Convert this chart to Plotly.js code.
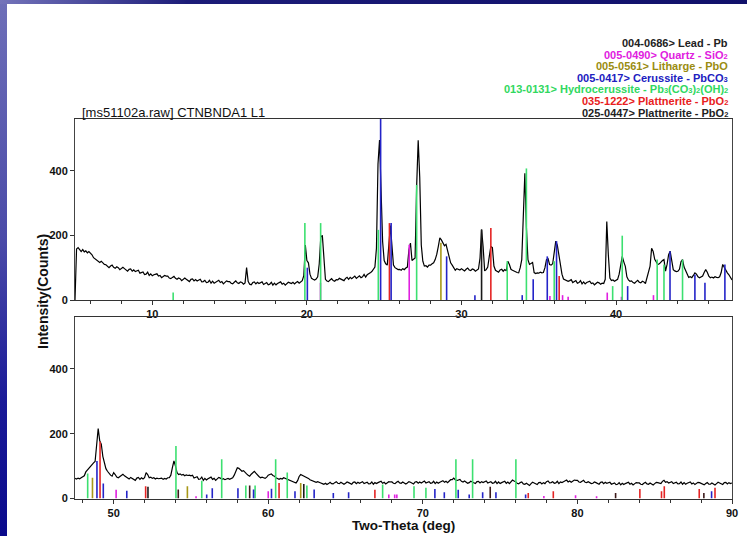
<!DOCTYPE html>
<html>
<head>
<meta charset="utf-8">
<script src="https://cdn.plot.ly/plotly-3.0.1.min.js"></script>
<style>
  html, body { margin: 0; padding: 0; background: #ffffff; }
  body { width: 747px; height: 536px; overflow: hidden; position: relative; }
  #chart { position: absolute; left: 0; top: 0; width: 747px; height: 536px; }
  .edge-left { position: absolute; left: 0; top: 0; width: 7px; height: 536px; z-index: 5;
    background: linear-gradient(to bottom, #6e6fb8 0%, #4a4aa8 45%, #1a1a98 75%, #0a0a8c 100%); }
  .edge-top { position: absolute; left: 0; top: 0; width: 747px; height: 4px; z-index: 5;
    background: linear-gradient(to right, #7474ba 0%, #4a4a9c 12%, #1c1c78 25%, #10106a 100%); }
</style>
</head>
<body>
<div id="chart"></div>
<div class="edge-left"></div>
<div class="edge-top"></div>
<script>
// Scan: 2-theta from 5.0 to 90.0 deg in 0.1 deg steps
const scanStart = 5.0;
const scanStep = 0.1;
const scanCounts = [
  0,158,162,155,150,156,149,152,146,150,      // 5
  146,140,131,127,122,118,116,120,114,110,    // 6
  109,103,100,105,108,101,98,103,100,94,      // 7
  97,101,97,92,89,95,96,89,93,88,             // 8
  90,92,83,84,87,79,80,86,76,81,              // 9
  75,78,80,81,74,76,69,72,76,74,              // 10
  74,68,66,70,73,67,64,68,66,60,              // 11
  63,68,64,60,57,64,65,59,63,59,              // 12
  61,64,56,57,61,54,55,61,52,58,              // 13
  52,56,59,61,54,57,50,54,59,57,              // 14
  57,52,50,55,59,53,51,56,54,49,              // 15
  53,100,58,49,47,54,56,50,55,51,             // 16
  53,56,48,50,54,47,49,55,46,52,              // 17
  47,51,54,56,49,52,46,50,55,53,              // 18
  51,55,50,54,57,52,56,60,75,170,             // 19
  122,115,80,67,64,62,65,72,112,195,          // 20
  200,110,64,59,57,62,66,60,58,63,            // 21
  62,67,65,61,60,67,70,64,70,66,              // 22
  70,74,67,70,75,69,72,79,71,78,              // 23
  80,84,88,94,102,160,420,495,330,180,        // 24
  122,112,108,160,230,170,108,100,96,94,      // 25
  95,92,97,94,99,102,155,176,122,126,         // 26
  130,350,494,380,170,120,105,106,102,108,    // 27
  108,112,115,125,141,165,192,186,178,168,    // 28
  172,150,128,115,108,99,92,97,96,93,         // 29
  97,92,90,95,99,93,91,96,94,89,              // 30
  94,96,130,218,165,90,94,102,135,166,        // 31
  162,105,92,88,86,93,95,89,94,90,            // 32
  120,110,95,92,89,86,85,84,100,125,          // 33
  300,392,225,125,110,112,116,85,82,84,       // 34
  83,86,84,85,100,125,128,110,108,112,        // 35
  150,182,170,140,115,80,65,62,60,58,         // 36
  60,63,54,56,60,52,54,60,50,56,              // 37
  50,54,56,58,51,53,47,51,55,53,              // 38
  49,52,51,64,243,140,68,60,62,58,            // 39
  62,64,80,110,135,118,104,72,62,58,          // 40
  59,54,52,57,61,55,53,58,56,51,              // 41
  72,88,105,160,150,126,118,110,112,118,      // 42
  122,125,89,110,140,151,120,94,90,88,        // 43
  89,95,118,125,102,92,80,70,72,69,           // 44
  76,84,80,72,69,72,74,85,94,86,              // 45
  74,69,71,68,72,70,69,72,85,110,             // 46
  100,92,84,78,70,62,60,63,61,64,             // 47
  66,70,82,88,94,98,104,110,114,160,          // 48
  216,178,168,130,110,92,84,76,72,69,         // 49
  80,74,66,64,68,72,75,70,66,63,              // 50
  60,65,62,58,56,63,65,59,64,60,              // 51
  64,80,74,64,66,62,64,60,63,61,              // 52
  61,63,59,62,60,64,64,72,95,116,             // 53
  100,80,74,76,72,74,70,73,71,72,             // 54
  70,72,63,64,67,59,60,66,56,62,              // 55
  57,61,64,66,59,62,56,60,65,63,              // 56
  59,61,58,60,62,59,61,64,72,84,              // 57
  95,93,89,84,86,80,76,72,69,75,              // 58
  80,84,78,72,68,64,66,64,62,66,              // 59
  72,74,76,71,69,64,62,59,62,60,              // 60
  64,62,58,56,54,52,50,49,48,55,              // 61
  68,74,72,70,67,64,62,58,56,55,              // 62
  53,50,52,49,48,46,44,47,43,46,              // 63
  50,46,45,49,52,47,46,50,48,44,              // 64
  47,51,49,46,44,50,51,46,50,47,              // 65
  50,52,46,47,50,45,46,51,44,49,              // 66
  46,49,51,53,47,50,45,48,52,51,              // 67
  51,47,46,50,53,48,47,51,49,45,              // 68
  48,52,50,47,45,51,52,47,51,48,              // 69
  52,54,48,49,52,47,48,53,46,51,              // 70
  47,50,53,55,50,53,49,53,58,58,              // 71
  63,58,55,57,59,53,51,54,51,47,              // 72
  49,53,51,48,46,52,53,48,52,49,              // 73
  52,54,48,49,52,47,48,53,46,51,              // 74
  46,49,51,53,47,51,46,50,57,54,              // 75
  52,47,45,49,51,45,44,47,44,40,              // 76
  46,50,48,45,43,49,50,45,49,46,              // 77
  52,54,48,49,52,47,48,53,46,51,              // 78
  49,52,54,57,51,54,50,53,57,56,              // 79
  56,51,50,53,56,50,49,52,50,46,              // 80
  47,51,49,46,44,50,51,46,50,47,              // 81
  48,50,44,45,48,43,44,49,42,47,              // 82
  43,46,48,50,44,47,42,45,49,48,              // 83
  48,44,43,47,50,45,44,48,46,42,              // 84
  46,50,49,47,46,53,56,50,52,48,              // 85
  50,52,46,47,50,45,46,51,44,49,              // 86
  44,47,49,51,45,48,43,46,50,49,              // 87
  47,43,42,46,49,44,44,48,46,42,              // 88
  46,50,48,45,43,49,50,45,49,46,              // 89
  48                                          // 90
];

// Reference patterns (stick positions in deg, heights in counts)
const leadPos = [31.30, 52.22, 62.30];
const leadHgt = [218, 36, 45];

const quartzPos = [20.88, 26.62, 35.72, 36.54, 36.90, 39.43, 40.35, 42.42, 50.16, 55.33, 60.00, 67.80, 68.18, 68.32, 77.83, 79.88, 81.24];
const quartzHgt = [53, 171, 12, 15, 10, 23, 10, 15, 27, 7, 22, 12, 12, 12, 8, 10, 7];

const lithargePos = [28.67, 48.63, 54.77, 62.10];
const lithargeHgt = [177, 64, 38, 48];

const cerussitePos = [20.03, 24.77, 25.45, 29.04, 30.87, 33.93, 34.64, 35.55, 36.15, 40.75, 43.49, 45.10, 45.75, 47.04, 48.92, 49.33, 50.85, 56.02, 56.38, 58.04, 59.05, 60.21, 61.73, 62.97, 64.21, 65.20, 70.78, 71.39, 72.29, 73.00, 73.87, 74.73, 76.65, 88.68];
const cerussiteHgt = [100, 600, 238, 135, 15, 15, 64, 135, 182, 43, 151, 79, 53, 110, 116, 46, 24, 12, 32, 32, 28, 30, 22, 28, 17, 19, 29, 19, 27, 12, 19, 19, 12, 22];

const hydroPos = [11.35, 19.87, 20.89, 24.62, 27.10, 32.96, 34.20, 36.00, 39.78, 40.40, 42.66, 43.10, 44.30, 48.32, 54.03, 55.70, 56.99, 58.55, 59.15, 60.48, 61.23, 62.50, 67.40, 69.43, 70.20, 72.14, 73.22, 76.02];
const hydroHgt = [23, 238, 238, 217, 356, 120, 407, 120, 43, 199, 125, 110, 125, 77, 162, 55, 121, 40, 40, 121, 80, 40, 43, 38, 33, 121, 121, 121];

const plattAPos = [25.34, 31.90, 36.32, 49.12, 52.07, 60.70, 66.90, 76.82, 78.44, 84.04, 85.44, 85.62, 87.88, 88.90];
const plattAHgt = [238, 223, 74, 175, 38, 48, 27, 17, 22, 29, 22, 38, 29, 33];

const plattBPos = [54.18, 58.80, 74.36, 82.47, 88.18];
const plattBHgt = [28, 40, 36, 17, 17];

// Card labels; formula digits set small, inline
const sm = d => '<span style="font-size:7.5px">' + d + '</span>';
const cardLabels = [
  '004-0686> Lead - Pb',
  '005-0490> Quartz - SiO' + sm(2),
  '005-0561> Litharge - PbO',
  '005-0417> Cerussite - PbCO' + sm(3),
  '013-0131> Hydrocerussite - Pb' + sm(3) + '(CO' + sm(3) + ')' + sm(2) + '(OH)' + sm(2),
  '035-1222> Plattnerite - PbO' + sm(2),
  '025-0447> Plattnerite - PbO' + sm(2)
];
const cardColors = ['#222222', '#e020e0', '#9a8c10', '#2020c0', '#30d860', '#e82020', '#222222'];

const topRange = [5.0, 47.5];
const bottomRange = [47.5, 90.0];

// ---- build traces ----
const scanAngle = scanCounts.map((_, i) => +(scanStart + i * scanStep).toFixed(2));

function scanPart(lo, hi, xa, ya) {
  const x = [], y = [];
  scanAngle.forEach((a, i) => { if (a >= lo - 1e-9 && a <= hi + 1e-9) { x.push(a); y.push(scanCounts[i]); } });
  return { type: 'scatter', mode: 'lines', x: x, y: y, xaxis: xa, yaxis: ya,
           line: { color: '#000000', width: 1.2 }, hoverinfo: 'skip', showlegend: false };
}

function stickPart(pos, hgt, color, lo, hi, xa, ya) {
  const x = [], y = [];
  pos.forEach((p, i) => {
    if (p >= lo && p <= hi) { x.push(p, p, null); y.push(0, hgt[i], null); }
  });
  return { type: 'scatter', mode: 'lines', x: x, y: y, xaxis: xa, yaxis: ya,
           line: { color: color, width: 1.6 }, hoverinfo: 'skip', showlegend: false };
}

const phases = [
  [leadPos, leadHgt, '#1a1a1a'],
  [quartzPos, quartzHgt, '#e020e0'],
  [lithargePos, lithargeHgt, '#a89818'],
  [hydroPos, hydroHgt, '#3ce070'],
  [plattAPos, plattAHgt, '#e42424'],
  [plattBPos, plattBHgt, '#3c1a1a'],
  [cerussitePos, cerussiteHgt, '#2424c8']
];

const traces = [scanPart(topRange[0], topRange[1], 'x', 'y'),
                scanPart(bottomRange[0], bottomRange[1], 'x2', 'y2')];
phases.forEach(ph => {
  traces.push(stickPart(ph[0], ph[1], ph[2], topRange[0], topRange[1], 'x', 'y'));
  traces.push(stickPart(ph[0], ph[1], ph[2], bottomRange[0], bottomRange[1], 'x2', 'y2'));
});

// ---- layout ----
const W = 747, H = 536;
const px = v => v / W;
const py = v => 1 - v / H;
const FAM = 'Liberation Sans, Arial, sans-serif';
const tickFont = { family: FAM, size: 11, color: '#111111', weight: 'bold' };

function xAxis(range, anchor) {
  return {
    domain: [px(75), px(732)], range: range, anchor: anchor,
    showline: true, mirror: true, linecolor: '#333333', linewidth: 1,
    showgrid: false, zeroline: false,
    tickmode: 'linear', tick0: 0, dtick: 10,
    ticks: 'outside', ticklen: 4, tickcolor: '#333333', tickfont: tickFont,
    minor: { tick0: 0, dtick: 2, ticks: 'outside', ticklen: 3, tickcolor: '#333333' }
  };
}
function yAxis(top, bottom, anchor) {
  return {
    domain: [py(bottom), py(top)], range: [0, 560], anchor: anchor,
    showline: true, mirror: true, linecolor: '#444444', linewidth: 1,
    showgrid: false, zeroline: false,
    tickmode: 'array', tickvals: [0, 200, 400],
    ticks: 'outside', ticklen: 4, tickcolor: '#333333', tickfont: tickFont
  };
}

const annotations = [
  { text: '[ms51102a.raw] CTNBNDA1 L1', x: px(80), y: py(113), xanchor: 'left', yanchor: 'middle',
    font: { family: FAM, size: 13, color: '#111111' } },
  { text: 'Intensity(Counts)', x: px(43), y: py(292), textangle: -90, xanchor: 'center', yanchor: 'middle',
    font: { family: FAM, size: 14, color: '#111111', weight: 'bold' } },
  { text: 'Two-Theta (deg)', x: px(403), y: py(525), xanchor: 'center', yanchor: 'middle',
    font: { family: FAM, size: 13.5, color: '#111111', weight: 'bold' } }
];
const cardY = [43, 54.5, 66, 77.5, 89, 101, 113];
cardLabels.forEach((t, i) => annotations.push({
  text: t, x: px(730), y: py(cardY[i]), xanchor: 'right', yanchor: 'middle',
  font: { family: FAM, size: 11, color: cardColors[i], weight: 'bold' }
}));
annotations.forEach(a => { a.xref = 'paper'; a.yref = 'paper'; a.showarrow = false; });

const layout = {
  width: W, height: H,
  margin: { l: 0, r: 0, t: 0, b: 0 },
  paper_bgcolor: 'rgba(0,0,0,0)', plot_bgcolor: '#ffffff',
  showlegend: false,
  xaxis: xAxis(topRange, 'y'),
  yaxis: yAxis(119, 300, 'x'),
  xaxis2: xAxis(bottomRange, 'y2'),
  yaxis2: yAxis(317, 498.5, 'x2'),
  annotations: annotations
};

Plotly.newPlot('chart', traces, layout, { displayModeBar: false, staticPlot: true });
</script>
</body>
</html>
